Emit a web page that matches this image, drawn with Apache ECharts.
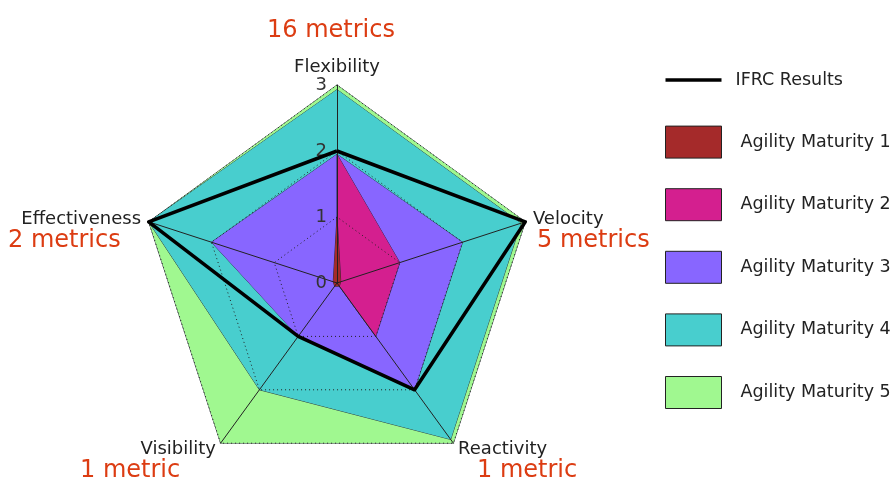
<!DOCTYPE html>
<html>
<head>
<meta charset="utf-8">
<script src="https://cdn.jsdelivr.net/npm/echarts@6/dist/echarts.min.js"></script>
<style>html,body{margin:0;padding:0;background:#fff}#c{width:894px;height:482px}</style>
</head>
<body>
<div id="c"></div>
<script>
// Indicators in ECharts radar order (counter-clockwise from top)
const categories = ['Flexibility', 'Effectiveness', 'Visibility', 'Reactivity', 'Velocity'];
const axisMax = 3;
const tickLabels = ['0', '1', '2', '3'];

const seriesNames = ['Agility Maturity 5', 'Agility Maturity 4', 'Agility Maturity 3', 'Agility Maturity 2', 'Agility Maturity 1'];
const maturity5 = [3, 3, 3, 3, 3];
const maturity4 = [2.93, 3, 2, 2.93, 2.93];
const maturity3 = [1.95, 2, 1, 2, 2];
const maturity2 = [1.95, 0, 0, 1, 1];
const maturity1 = [1, 0.06, 0.06, 0.06, 0.06];
const ifrcName = 'IFRC Results';
const ifrcResults = [2, 3, 1, 2, 3];

const metricNotes = ['16 metrics', '2 metrics', '1 metric', '1 metric', '5 metrics'];

const colors = ['#A0F890', '#48CECE', '#8866FF', '#D41F8F', '#A52A2A'];
const areaValues = [maturity5, maturity4, maturity3, maturity2, maturity1];

const chart = echarts.init(document.getElementById('c'), null, {renderer: 'canvas'});
const font = '"DejaVu Sans", sans-serif';
const red = '#DC3C12';

const series = areaValues.map((vals, i) => ({
  type: 'radar',
  name: seriesNames[i],
  z: 2,
  symbol: 'none',
  silent: true,
  itemStyle: {color: colors[i]},
  lineStyle: {color: '#1e1e30', width: 1, opacity: 0.85},
  areaStyle: {color: colors[i], opacity: 1},
  data: [{value: vals, name: seriesNames[i]}]
}));
series.push({
  type: 'radar',
  name: ifrcName,
  z: 4,
  symbol: 'none',
  silent: true,
  itemStyle: {color: '#000'},
  lineStyle: {color: '#000', width: 3.5},
  data: [{value: ifrcResults, name: ifrcName}]
});

const notePos = [
  {x: 331, y: 31, align: 'center'},
  {x: 8, y: 241, align: 'left'},
  {x: 80, y: 471, align: 'left'},
  {x: 477, y: 471, align: 'left'},
  {x: 537, y: 241, align: 'left'}
];

chart.setOption({
  animation: false,
  backgroundColor: '#fff',
  radar: {
    center: [337, 283],
    radius: 198,
    startAngle: 90,
    splitNumber: 3,
    z: 3,
    shape: 'polygon',
    nameGap: 8,
    axisName: {color: '#222', fontSize: 18, fontFamily: font},
    indicator: categories.map((c, i) => i === 0
      ? {name: c, min: 0, max: axisMax, axisLabel: {show: true, color: '#333', fontSize: 18, fontFamily: font, margin: 10,
          formatter: v => tickLabels[Math.round(v)] ?? ''}}
      : {name: c, min: 0, max: axisMax}),
    axisLine: {show: true, lineStyle: {color: '#222', width: 1}},
    axisTick: {show: false},
    axisLabel: {show: false},
    splitLine: {show: true, lineStyle: {color: '#222', width: 1, type: [1, 3]}},
    splitArea: {show: false}
  },
  legend: {
    orient: 'vertical',
    left: 665,
    top: 64,
    padding: 0,
    itemWidth: 56,
    itemHeight: 32,
    itemGap: 29.6,
    selectedMode: false,
    textStyle: {color: '#222', fontSize: 17.5, fontFamily: font, padding: [0, 0, 0, 14]},
    itemStyle: {borderColor: '#222', borderWidth: 1},
    data: [
      {name: ifrcName, icon: 'path://M0,0H48V3H0Z', itemStyle: {borderWidth: 0}, textStyle: {padding: [0, 0, 0, 9], lineHeight: 32}},
      ...seriesNames.slice().reverse().map(n => ({name: n, icon: 'rect'}))
    ]
  },
  graphic: metricNotes.map((t, i) => ({
    type: 'text',
    x: notePos[i].x,
    y: notePos[i].y,
    silent: true,
    style: {text: t, fill: red, font: '24px ' + font, align: notePos[i].align, verticalAlign: 'middle'}
  })),
  series: series
});
</script>
</body>
</html>
